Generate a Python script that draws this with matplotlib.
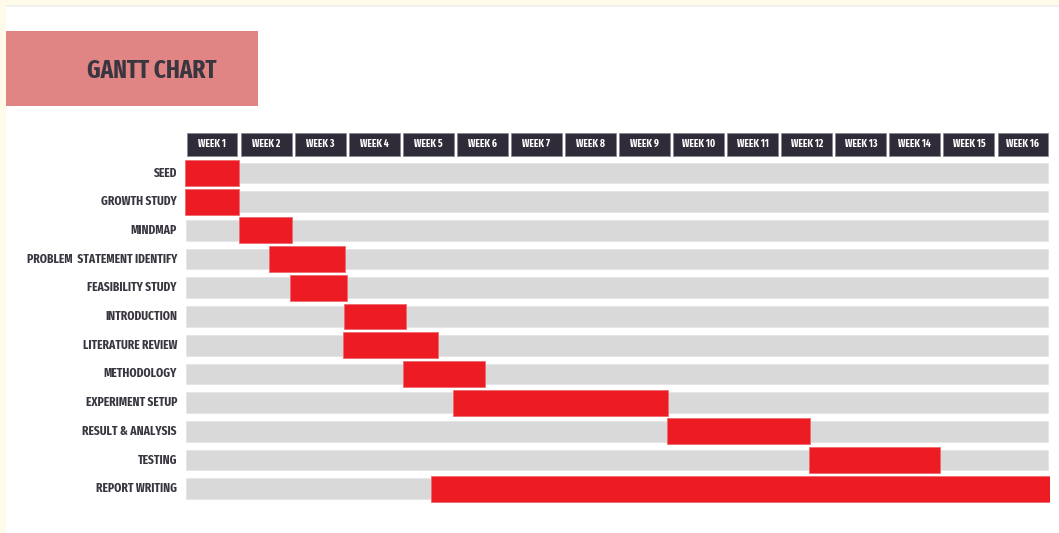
import matplotlib
matplotlib.use("Agg")
import matplotlib.pyplot as plt
from matplotlib.patches import Rectangle
from matplotlib import font_manager as fm

# task list, top to bottom, with start / end in weeks (0 = start of week 1)
tasks = ["SEED", "GROWTH STUDY", "MINDMAP", "PROBLEM  STATEMENT IDENTIFY",
         "FEASIBILITY STUDY", "INTRODUCTION", "LITERATURE REVIEW", "METHODOLOGY",
         "EXPERIMENT SETUP", "RESULT & ANALYSIS", "TESTING", "REPORT WRITING"]
start = [0.0, 0.0, 1.0, 1.55, 1.95, 2.95, 2.93, 4.03, 4.96, 8.92, 11.55, 4.55]
end = [1.0, 1.0, 1.98, 2.96, 3.0, 4.09, 4.68, 5.55, 8.93, 11.56, 13.97, 16.03]
weeks = ["WEEK %d" % i for i in range(1, 17)]


def narrow_bold():
    # a bold face first, then the narrowest of those (extra-condensed preferred)
    def stretch_rank(f):
        s = str(f.stretch).lower()
        fn = f.fname.lower().replace("-", "").replace("_", "")
        if "extracondensed" in fn or s == "extra-condensed":
            return 0
        if "ultracondensed" in fn or s == "ultra-condensed":
            return 2
        if "semicondensed" in fn or s == "semi-condensed":
            return 3
        if "condensed" in fn or "narrow" in fn or s == "condensed" or "Narrow" in f.name:
            return 1
        return 9

    best = None
    for f in fm.fontManager.ttflist:
        r = stretch_rank(f)
        if r == 9 or "italic" in f.fname.lower():
            continue
        w = f.weight if isinstance(f.weight, int) else {"bold": 700}.get(f.weight, 400)
        key = (abs(w - 700) // 100, r)
        if best is None or key < best[0]:
            best = (key, f.fname)
    if best:
        return fm.FontProperties(fname=best[1])
    return fm.FontProperties(family="DejaVu Sans", weight="bold")


FP = narrow_bold()
RED = "#ed1c24"
GREY = "#d9d9d9"
DARK = "#2f2b38"
TXT = "#3a3640"

W, H = 1059, 533
fig = plt.figure(figsize=(W / 100, H / 100), dpi=100, facecolor="#fffaea")

# white page inside the cream border
fig.patches.append(Rectangle((6 / W, 0), 1 - 6 / W, 1 - 6 / H, transform=fig.transFigure,
                             facecolor="white", edgecolor="none", zorder=-2))
fig.patches.append(Rectangle((6 / W, 1 - 7 / H), 1 - 6 / W, 2 / H, transform=fig.transFigure,
                             facecolor="#f1f1f1", edgecolor="none", zorder=-2))

# title block
fig.patches.append(Rectangle((6 / W, 1 - 106 / H), 252 / W, 75 / H, transform=fig.transFigure,
                             facecolor="#e18484", edgecolor="none", zorder=-1))
tt = fig.text(152 / W, 1 - 71 / H, "GANTT CHART", ha="center", va="center",
              color=TXT, fontproperties=FP)
tt.set_fontsize(18)

row_px = 28.7
top_px = 173 + (-1.6) * row_px
bot_px = 173 + 11.6 * row_px
ax = fig.add_axes([185 / W, 1 - bot_px / H, 865 / W, (bot_px - top_px) / H])
ax.set_zorder(2)
ax.set_xlim(0, 16)
ax.set_ylim(11.6, -1.6)
ax.axis("off")
ax.patch.set_alpha(0)

n = len(tasks)
rows = list(range(n))

# background rows
ax.barh(rows, [15.95] * n, left=0.02, height=0.72, color=GREY, edgecolor="#e6e6e6", linewidth=0.6)
# task bars
ax.barh(rows, [e - s for s, e in zip(start, end)], left=start, height=0.9,
        color=RED, edgecolor="#f06a6e", linewidth=0.6)

# week header boxes
ax.barh([-1] * 16, [0.94] * 16, left=[i + 0.03 for i in range(16)], height=0.8,
        color=DARK, edgecolor="#8a8790", linewidth=0.6)
for i, wk in enumerate(weeks):
    t = ax.text(i + 0.5, -1, wk, ha="center", va="center", color="white", fontproperties=FP)
    t.set_fontsize(7.5)

for i, name in enumerate(tasks):
    t = ax.text(-0.15, i, name, ha="right", va="center", color=TXT, fontproperties=FP)
    t.set_fontsize(9)

fig.savefig("out.png", dpi=100, facecolor=fig.get_facecolor())
